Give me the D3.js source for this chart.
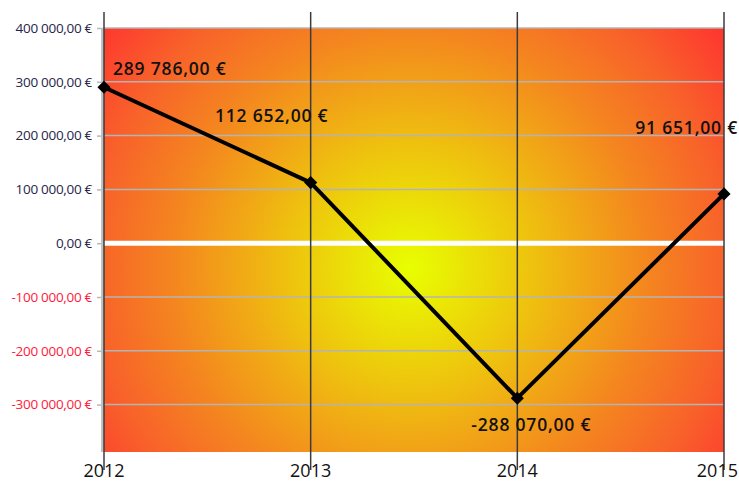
<!DOCTYPE html>
<html>
<head>
<meta charset="utf-8">
<script src="https://cdn.jsdelivr.net/npm/d3@7"></script>
<style>
  body { margin: 0; background: #fff; }
  svg { display: block; font-family: "Open Sans", "Noto Sans", sans-serif; }
</style>
</head>
<body>
<div id="chart"></div>
<script>
// chart data
const years = ["2012", "2013", "2014", "2015"];
const values = [289786, 112652, -288070, 91651];
const yTicks = [400000, 300000, 200000, 100000, 0, -100000, -200000, -300000];

const width = 739, height = 484;
const margin = { top: 28, right: 15, bottom: 32, left: 104 };

const svg = d3.select("#chart")
    .append("svg")
    .attr("width", width)
    .attr("height", height);

const x = d3.scalePoint()
    .domain(years)
    .range([margin.left, width - margin.right]);

const y = d3.scaleLinear()
    .domain([d3.min(values) - 100000, 400000])
    .range([height - margin.bottom, margin.top]);

// french style currency format
const fmt = (v) => {
    const s = Math.abs(v).toFixed(2).split(".");
    const int = s[0].replace(/\B(?=(\d{3})+(?!\d))/g, " ");
    return (v < 0 ? "-" : "") + int + "," + s[1] + " €";
};

// radial background
const defs = svg.append("defs");
const grad = defs.append("radialGradient")
    .attr("id", "bg")
    .attr("gradientUnits", "userSpaceOnUse")
    .attr("cx", 410).attr("cy", 268).attr("r", 395);
grad.append("stop").attr("offset", "0").attr("stop-color", "#e8ff00");
grad.append("stop").attr("offset", "0.3").attr("stop-color", "#eec40e");
grad.append("stop").attr("offset", "0.6").attr("stop-color", "#f4861f");
grad.append("stop").attr("offset", "0.8").attr("stop-color", "#f8622a");
grad.append("stop").attr("offset", "1").attr("stop-color", "#ff3430");

const x0 = x.range()[0], x1 = x.range()[1];
svg.append("rect")
    .attr("x", x0)
    .attr("y", y(400000))
    .attr("width", x1 - x0)
    .attr("height", y.range()[0] - y(400000))
    .attr("fill", "url(#bg)");

// y axis with gridlines
const yAxis = svg.append("g")
    .attr("transform", `translate(${x0},0)`)
    .call(d3.axisLeft(y).tickValues(yTicks).tickFormat(fmt).tickSize(7).tickPadding(5));
yAxis.select(".domain").remove();
yAxis.selectAll(".tick line").attr("stroke", "#b8b8b8").attr("stroke-width", 1.5);
yAxis.selectAll(".tick text")
    .attr("font-size", 13.5)
    .attr("font-family", "'Open Sans', sans-serif")
    .attr("letter-spacing", -0.3)
    .attr("fill", (d) => d < 0 ? "#ff1a3c" : "#26264a");

svg.append("g")
    .selectAll("line")
    .data(yTicks.filter((d) => d !== 0))
    .join("line")
    .attr("x1", x0).attr("x2", x1)
    .attr("y1", (d) => y(d)).attr("y2", (d) => y(d))
    .attr("stroke", "#b4b4b4")
    .attr("stroke-width", 1.5);

// left axis bar
svg.append("line")
    .attr("x1", x0 - 1.5).attr("x2", x0 - 1.5)
    .attr("y1", y(400000)).attr("y2", y.range()[0])
    .attr("stroke", "#c0c0c0")
    .attr("stroke-width", 3);

// zero line
svg.append("line")
    .attr("x1", x0).attr("x2", x1)
    .attr("y1", y(0)).attr("y2", y(0))
    .attr("stroke", "#fff")
    .attr("stroke-width", 5);

// vertical year lines
svg.append("g")
    .selectAll("line")
    .data(years)
    .join("line")
    .attr("x1", (d) => x(d)).attr("x2", (d) => x(d))
    .attr("y1", 12).attr("y2", 470)
    .attr("stroke", "#3c3c3c")
    .attr("stroke-width", 1.5);

// x labels (last one kept inside the frame)
svg.append("g")
    .selectAll("text")
    .data(years)
    .join("text")
    .attr("x", (d, i) => i === years.length - 1 ? width - 1 : x(d))
    .attr("y", 477)
    .attr("text-anchor", (d, i) => i === years.length - 1 ? "end" : "middle")
    .attr("font-size", 18)
    .attr("fill", "#111")
    .text((d) => d);

// series line
const pts = years.map((yr, i) => ({ year: yr, value: values[i] }));
svg.append("path")
    .datum(pts)
    .attr("fill", "none")
    .attr("stroke", "#000")
    .attr("stroke-width", 4)
    .attr("stroke-linejoin", "round")
    .attr("d", d3.line().x((d) => x(d.year)).y((d) => y(d.value)));

svg.append("g")
    .selectAll("path")
    .data(pts)
    .join("path")
    .attr("transform", (d) => `translate(${x(d.year)},${y(d.value)})`)
    .attr("d", d3.symbol(d3.symbolDiamond2, 110))
    .attr("fill", "#000");

// data labels, offsets per point
const labelOffsets = [
    { dx: 9, dy: -12, anchor: "start" },
    { dx: -39, dy: -61, anchor: "middle" },
    { dx: 14, dy: 33, anchor: "middle" },
    { dx: 14, dy: -60, anchor: "end" }
];
svg.append("g")
    .selectAll("text")
    .data(pts)
    .join("text")
    .attr("x", (d, i) => x(d.year) + labelOffsets[i].dx)
    .attr("y", (d, i) => y(d.value) + labelOffsets[i].dy)
    .attr("text-anchor", (d, i) => labelOffsets[i].anchor)
    .attr("font-size", 17.5)
    .attr("font-weight", 600)
    .attr("letter-spacing", 0.8)
    .attr("fill", "#111")
    .text((d) => fmt(d.value));
</script>
</body>
</html>
